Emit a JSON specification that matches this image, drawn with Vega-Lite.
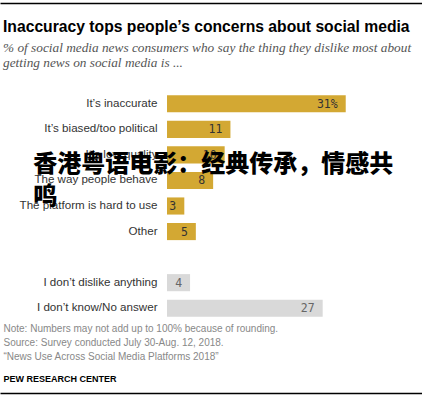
{
  "$schema": "https://vega.github.io/schema/vega-lite/v6.json",
  "width": 422,
  "height": 230,
  "autosize": "none",
  "padding": {"top": 91, "bottom": 76, "left": 0, "right": 0},
  "background": "white",
  "config": {"view": {"stroke": null}},
  "title": {
    "text": "Inaccuracy tops people’s concerns about social media",
    "subtitle": ["% of social media news consumers who say the thing they dislike most about", "getting news on social media is ..."],
    "anchor": "start",
    "frame": "group",
    "dx": 3,
    "offset": -67,
    "font": "Liberation Sans",
    "fontSize": 15.7,
    "fontWeight": "bold",
    "color": "#000000",
    "subtitleFont": "Liberation Serif",
    "subtitleFontStyle": "italic",
    "subtitleFontSize": 13.3,
    "subtitleColor": "#555555",
    "subtitleLineHeight": 14.5,
    "subtitlePadding": 6
  },
  "data": {
    "values": [
      {"reason": "It’s inaccurate", "pct": 31, "label": "31%", "kind": "concern"},
      {"reason": "It’s biased/too political", "pct": 11, "label": "11", "kind": "concern"},
      {"reason": "It’s low quality", "pct": 10, "label": "10", "kind": "concern"},
      {"reason": "The way people behave", "pct": 8, "label": "8", "kind": "concern"},
      {"reason": "The platform is hard to use", "pct": 3, "label": "3", "kind": "concern"},
      {"reason": "Other", "pct": 5, "label": "5", "kind": "concern"},
      {"reason": "I don’t dislike anything", "pct": 4, "label": "4", "kind": "none"},
      {"reason": "I don’t know/No answer", "pct": 27, "label": "27", "kind": "none"}
    ]
  },
  "layer": [
    {
      "mark": {"type": "bar"},
      "encoding": {
        "y": {
          "field": "reason",
          "type": "nominal",
          "scale": {
            "domain": ["It’s inaccurate", "It’s biased/too political", "It’s low quality", "The way people behave", "The platform is hard to use", "Other", " ", "I don’t dislike anything", "I don’t know/No answer"],
            "paddingInner": 0.33,
            "paddingOuter": 0.165
          },
          "axis": {
            "orient": "left",
            "offset": -157,
            "domain": false,
            "ticks": false,
            "grid": false,
            "labelPadding": 0,
            "labelFont": "Liberation Sans",
            "labelFontSize": 11.6,
            "labelColor": "#333333",
            "labelLimit": 300,
            "title": null
          }
        },
        "x": {
          "field": "pct",
          "type": "quantitative",
          "scale": {"domain": [-28.97, 44.23], "nice": false, "zero": false},
          "axis": {
            "orient": "bottom",
            "offset": 72,
            "labels": false,
            "ticks": false,
            "grid": false,
            "domain": true,
            "domainColor": "#000000",
            "domainOpacity": 1,
            "domainWidth": 1.5,
            "zindex": 5,
            "title": ["Note: Numbers may not add up to 100% because of rounding.", "Source: Survey conducted July 30-Aug. 12, 2018.", "“News Use Across Social Media Platforms 2018”"],
            "titleX": 3,
            "titleY": -61.5,
            "titleAlign": "left",
            "titleBaseline": "alphabetic",
            "titleFont": "Liberation Sans",
            "titleFontSize": 10,
            "titleFontWeight": "normal",
            "titleColor": "#888888",
            "titleLineHeight": 14
          }
        },
        "color": {
          "field": "kind",
          "type": "nominal",
          "scale": {"domain": ["concern", "none"], "range": ["#D3A833", "#D9D9D9"]},
          "legend": null
        }
      }
    },
    {
      "mark": {"type": "text", "align": "right", "baseline": "middle", "dx": -8, "dy": 1, "font": "DejaVu Sans Mono", "fontSize": 11.5},
      "encoding": {
        "y": {"field": "reason", "type": "nominal"},
        "x": {
          "field": "pct",
          "type": "quantitative",
          "axis": {
            "orient": "top",
            "offset": 88,
            "labels": false,
            "ticks": false,
            "grid": false,
            "domain": true,
            "domainColor": "#000000",
            "domainOpacity": 1,
            "domainWidth": 1.5,
            "zindex": 5,
            "title": "PEW RESEARCH CENTER",
            "titleX": 3,
            "titleY": 378,
            "titleAlign": "left",
            "titleBaseline": "alphabetic",
            "titleAngle": 0,
            "titleFont": "Liberation Sans",
            "titleFontSize": 9,
            "titleFontWeight": "bold",
            "titleColor": "#000000"
          }
        },
        "text": {"field": "label"},
        "color": {"condition": {"test": "datum.kind === 'none'", "value": "#666666"}, "value": "#333333"}
      }
    },
    {
      "data": {"values": [{"overlay": "香港粤语电影：经典传承，情感共\n鸣"}]},
      "mark": {"type": "text", "align": "left", "baseline": "alphabetic", "dy": 17, "lineBreak": "\n", "lineHeight": 32, "font": "Noto Sans CJK SC", "fontSize": 24, "fontWeight": 900, "color": "#000000"},
      "encoding": {
        "x": {"datum": -23.2, "type": "quantitative", "axis": null},
        "y": {"datum": "It’s low quality", "type": "nominal"},
        "text": {"field": "overlay"}
      }
    }
  ],
  "resolve": {"axis": {"x": "independent"}}
}
